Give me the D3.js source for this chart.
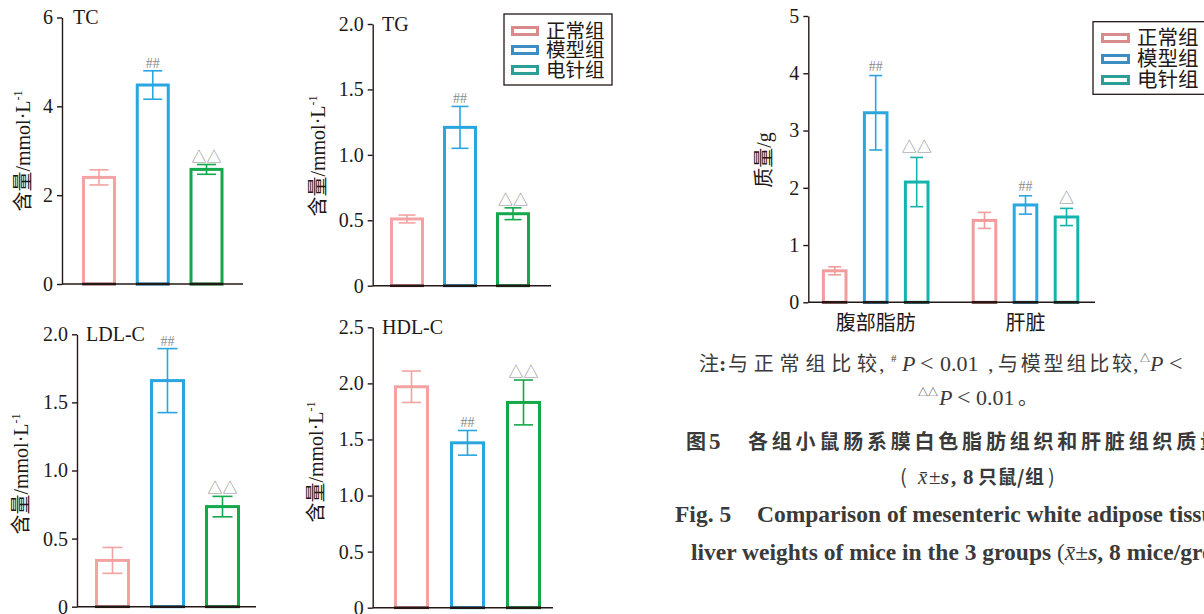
<!DOCTYPE html>
<html>
<head>
<meta charset="utf-8">
<title>Fig. 5</title>
<script src="https://d3js.org/d3.v7.min.js"></script>
<style type="text/css">
  body { margin: 0; background: #fff; }
  svg text { fill: #231815; }
  .tick text { font-family: "Liberation Serif", serif; font-size: 20px; }
  .serif { font-family: "Liberation Serif", serif; }
  .cjk { font-family: "Noto Sans CJK SC", sans-serif; }
  .mark { fill: #8a8a8a; }
  .cap text { fill: #3a3a3a; }
</style>
<script type="text/javascript">

var groups = ["正常组", "模型组", "电针组"];

var tcMean = [2.40, 4.48, 2.58];
var tcErr = [0.17, 0.32, 0.11];
var tcMarks = ["", "##", "△△"];
var tcTicks = [0, 2, 4, 6];

var tgMean = [0.51, 1.21, 0.55];
var tgErr = [0.03, 0.16, 0.045];
var tgMarks = ["", "##", "△△"];
var tgTicks = [0, 0.5, 1.0, 1.5, 2.0];

var ldlMean = [0.34, 1.66, 0.735];
var ldlErr = [0.095, 0.235, 0.075];
var ldlMarks = ["", "##", "△△"];
var ldlTicks = [0, 0.5, 1.0, 1.5, 2.0];

var hdlMean = [1.97, 1.47, 1.83];
var hdlErr = [0.14, 0.11, 0.20];
var hdlMarks = ["", "##", "△△"];
var hdlTicks = [0, 0.5, 1.0, 1.5, 2.0, 2.5];

var organs = ["腹部脂肪", "肝脏"];
var fatMean = [0.55, 3.31, 2.10];
var fatErr = [0.07, 0.65, 0.43];
var fatMarks = ["", "##", "△△"];
var liverMean = [1.43, 1.70, 1.49];
var liverErr = [0.14, 0.16, 0.15];
var liverMarks = ["", "##", "△"];
var weightTicks = [0, 1, 2, 3, 4, 5];

var leftColors = ["#f4a2a2", "#29a6e0", "#14a84c"];
var rightColors = ["#f29c9c", "#2ba6df", "#14b4ae"];
var legendColors = ["#d98b8b", "#3b8dc4", "#2b9e96"];

function fmtTick(d) { return d === 0 ? "0" : d3.format(".1f")(d); }

function drawAxes(svg, p, y) {
  var ax = svg.append("g")
    .attr("transform", "translate(" + p.ax + ",0)")
    .call(d3.axisLeft(y).tickValues(p.ticks).tickSize(5).tickSizeOuter(0)
      .tickPadding(4).tickFormat(p.fmt));
  ax.select(".domain").attr("stroke", "#231815").attr("stroke-width", 1.4);
  ax.selectAll(".tick line").attr("stroke", "#231815").attr("stroke-width", 1.4);
  ax.selectAll(".tick text").attr("fill", "#231815");

  svg.append("line")
    .attr("x1", p.ax).attr("x2", p.xEnd)
    .attr("y1", y(0)).attr("y2", y(0))
    .attr("stroke", "#231815").attr("stroke-width", 1.4);
}

function drawBars(svg, bars, y, bw, cap, off) {
  // bars: [{x, v, e, mark, color}]
  var g = svg.append("g");
  g.selectAll("rect").data(bars).enter().append("rect")
    .attr("x", function(d) { return d.x - bw / 2 + 1.5; })
    .attr("y", function(d) { return y(d.v); })
    .attr("width", bw - 3)
    .attr("height", function(d) { return y(0) - y(d.v); })
    .attr("fill", "none")
    .attr("stroke", function(d) { return d.color; })
    .attr("stroke-width", 3);

  // bar bottoms sit on the axis
  g.selectAll("line.base").data(bars).enter().append("line")
    .attr("class", "base")
    .attr("x1", function(d) { return d.x - bw / 2; })
    .attr("x2", function(d) { return d.x + bw / 2; })
    .attr("y1", y(0)).attr("y2", y(0))
    .attr("stroke", "#231815").attr("stroke-width", 2.6);

  // error bars
  var eb = g.selectAll("g.err").data(bars).enter().append("g")
    .attr("stroke", function(d) { return d.color; })
    .attr("stroke-width", 1.6);
  eb.append("line")
    .attr("x1", function(d) { return d.x; }).attr("x2", function(d) { return d.x; })
    .attr("y1", function(d) { return y(d.v + d.e); })
    .attr("y2", function(d) { return y(d.v - d.e); });
  eb.append("line")
    .attr("x1", function(d) { return d.x - cap / 2; }).attr("x2", function(d) { return d.x + cap / 2; })
    .attr("y1", function(d) { return y(d.v + d.e); }).attr("y2", function(d) { return y(d.v + d.e); });
  eb.append("line")
    .attr("x1", function(d) { return d.x - cap / 2; }).attr("x2", function(d) { return d.x + cap / 2; })
    .attr("y1", function(d) { return y(d.v - d.e); }).attr("y2", function(d) { return y(d.v - d.e); });

  // significance marks
  g.selectAll("text.mark").data(bars.filter(function(d) { return d.mark; })).enter()
    .append("text")
    .attr("class", function(d) { return d.mark.indexOf("#") >= 0 ? "mark serif" : "mark cjk"; })
    .attr("x", function(d) { return d.x; })
    .attr("y", function(d) { return y(d.v + d.e) - off; })
    .attr("text-anchor", "middle")
    .attr("font-size", function(d) { return d.mark.indexOf("#") >= 0 ? 14 : 15; })
    .text(function(d) { return d.mark; });
}

function yLabel(svg, x, y, cn, unit, sup) {
  var t = svg.append("text")
    .attr("transform", "translate(" + x + "," + y + ") rotate(-90)")
    .attr("text-anchor", "middle")
    .attr("font-size", 20);
  t.append("tspan").attr("class", "cjk").text(cn);
  t.append("tspan").attr("class", "serif").text(unit);
  if (sup) {
    t.append("tspan").attr("class", "serif").attr("font-size", 12)
      .attr("dy", -8).text(sup);
  }
}

function legend(svg, L) {
  svg.append("rect")
    .attr("x", L.x).attr("y", L.y).attr("width", L.w).attr("height", L.h)
    .attr("fill", "#fff").attr("stroke", "#231815").attr("stroke-width", 1.3);
  var item = svg.selectAll(null).data(groups).enter().append("g");
  item.append("rect")
    .attr("x", L.sx + 1.5)
    .attr("y", function(d, i) { return L.rows[i] - 3.5; })
    .attr("width", L.sw - 3).attr("height", 7)
    .attr("fill", "#fff")
    .attr("stroke", function(d, i) { return legendColors[i]; })
    .attr("stroke-width", 3);
  item.append("text")
    .attr("class", "cjk")
    .attr("x", L.tx)
    .attr("y", function(d, i) { return L.rows[i]; })
    .attr("dy", "0.36em")
    .attr("font-size", L.fs)
    .text(function(d) { return d; });
}

function drawPanel(svg, p) {
  var y = d3.scaleLinear().domain([0, p.max]).range([p.y0, p.yTop]);
  var x = d3.scalePoint().domain(groups).range([p.c1, p.c3]);
  drawAxes(svg, p, y);
  var bars = groups.map(function(g, i) {
    return { x: x(g), v: p.mean[i], e: p.err[i], mark: p.marks[i], color: leftColors[i] };
  });
  drawBars(svg, bars, y, p.bw, p.cap, 3);
  svg.append("text").attr("class", "serif")
    .attr("x", p.tx).attr("y", p.ty).attr("font-size", 20).text(p.title);
  yLabel(svg, p.lx, p.ly, "含量", "/mmol·L", "-1");
}

// helper for caption pieces placed at read-off x positions
function piece(g, x, y, txt, cls, size, opts) {
  opts = opts || {};
  var t = g.append("text").attr("class", cls).attr("x", x).attr("y", y)
    .attr("font-size", size).text(txt);
  if (opts.italic) t.attr("font-style", "italic");
  if (opts.bold) t.attr("font-weight", 700);
  if (opts.len) t.attr("textLength", opts.len).attr("lengthAdjust", "spacing");
  return t;
}

function createChart() {
  var svg = d3.select("body").append("svg")
    .attr("width", 1204).attr("height", 614)
    .style("display", "block");
  svg.append("rect").attr("width", 1204).attr("height", 614).attr("fill", "#fff");

  var panels = [
    { title: "TC", mean: tcMean, err: tcErr, marks: tcMarks, ticks: tcTicks, max: 6,
      fmt: function(d) { return d; },
      ax: 62, xEnd: 243, y0: 284, yTop: 17.5, c1: 99, c3: 206.5, bw: 34, cap: 19,
      tx: 73, ty: 24, lx: 30, ly: 151 },
    { title: "TG", mean: tgMean, err: tgErr, marks: tgMarks, ticks: tgTicks, max: 2,
      fmt: fmtTick,
      ax: 372.7, xEnd: 551, y0: 285.7, yTop: 24, c1: 407, c3: 513, bw: 34, cap: 17,
      tx: 382, ty: 31, lx: 325, ly: 156 },
    { title: "LDL-C", mean: ldlMean, err: ldlErr, marks: ldlMarks, ticks: ldlTicks, max: 2,
      fmt: fmtTick,
      ax: 77, xEnd: 256, y0: 606.7, yTop: 334.3, c1: 112.5, c3: 222.5, bw: 35, cap: 20,
      tx: 86, ty: 341, lx: 28, ly: 474 },
    { title: "HDL-C", mean: hdlMean, err: hdlErr, marks: hdlMarks, ticks: hdlTicks, max: 2.5,
      fmt: fmtTick,
      ax: 372.7, xEnd: 553, y0: 607.7, yTop: 327.3, c1: 411.5, c3: 523.5, bw: 35, cap: 19,
      tx: 382, ty: 334, lx: 323, ly: 462 }
  ];
  panels.forEach(function(p) { drawPanel(svg, p); });

  legend(svg, { x: 504, y: 14, w: 108, h: 71, sx: 511, sw: 28, rows: [31, 50, 70], tx: 546, fs: 19.5 });

  // right panel: organ weights
  var R = { ax: 808.3, xEnd: 1095, y0: 302.3, yTop: 16, ticks: weightTicks,
            fmt: function(d) { return d; } };
  var yR = d3.scaleLinear().domain([0, 5]).range([R.y0, R.yTop]);
  var xO = d3.scalePoint().domain(organs).range([875.7, 1025.5]);
  var xG = d3.scalePoint().domain(groups).range([-41, 41]);
  drawAxes(svg, R, yR);
  var series = [[fatMean, fatErr, fatMarks], [liverMean, liverErr, liverMarks]];
  var rbars = [];
  organs.forEach(function(o, j) {
    groups.forEach(function(g, i) {
      rbars.push({ x: xO(o) + xG(g), v: series[j][0][i], e: series[j][1][i],
                   mark: series[j][2][i], color: rightColors[i] });
    });
  });
  drawBars(svg, rbars, yR, 25.6, 13, 5);
  svg.selectAll("text.cat").data(organs).enter().append("text")
    .attr("class", "cjk")
    .attr("x", function(d) { return xO(d); })
    .attr("y", 330)
    .attr("text-anchor", "middle")
    .attr("font-size", 20)
    .text(function(d) { return d; });
  yLabel(svg, 771, 160, "质量", "/g", null);
  legend(svg, { x: 1093, y: 21.7, w: 140, h: 72.6, sx: 1101, sw: 29, rows: [38, 59, 80], tx: 1137, fs: 20.5 });

  // caption
  var c = svg.append("g").attr("class", "cap");

  // note line 1
  piece(c, 699, 371, "注", "cjk", 20);
  piece(c, 719, 371, ":", "serif", 22, { bold: true });
  piece(c, 728, 371, "与正常组比较", "cjk", 20, { len: 149 });
  piece(c, 879, 371, ",", "serif", 22);
  piece(c, 891, 362, "#", "serif", 11);
  piece(c, 902, 371, "P", "serif", 22, { italic: true });
  piece(c, 920, 371, "<", "serif", 24);
  piece(c, 940, 371, "0.01", "serif", 22);
  piece(c, 988, 371, ",", "serif", 22);
  piece(c, 998, 371, "与模型组比较", "cjk", 20, { len: 134 });
  piece(c, 1133, 371, ",", "serif", 22);
  piece(c, 1140, 362, "△", "cjk", 10);
  piece(c, 1150, 371, "P", "serif", 22, { italic: true });
  piece(c, 1169, 371, "<", "serif", 24);

  // note line 2
  piece(c, 918, 396, "△△", "cjk", 10);
  piece(c, 939, 405, "P", "serif", 22, { italic: true });
  piece(c, 957, 405, "<", "serif", 24);
  piece(c, 976, 405, "0.01", "serif", 22);
  piece(c, 1018, 405, "。", "cjk", 20);

  // figure title, Chinese
  piece(c, 686, 449, "图", "cjk", 20, { bold: true });
  piece(c, 709, 449, "5", "serif", 23, { bold: true });
  piece(c, 748, 449, "各组小鼠肠系膜白色脂肪组织和肝脏组织质量", "cjk", 20, { bold: true, len: 472 });

  piece(c, 900, 484, "(", "cjk", 20);
  piece(c, 918, 484, "x̄", "serif", 21, { italic: true });
  piece(c, 929, 484, "±", "serif", 21);
  piece(c, 941, 484, "s", "serif", 21, { italic: true, bold: true });
  piece(c, 951, 484, ",", "serif", 21, { bold: true });
  piece(c, 963, 484, "8", "serif", 21, { bold: true });
  piece(c, 978, 484, "只鼠/组", "cjk", 19, { bold: true, len: 66 });
  piece(c, 1048, 484, ")", "cjk", 20);

  // figure title, English
  piece(c, 675, 522, "Fig. 5", "serif", 23.5, { bold: true });
  piece(c, 757, 522, "Comparison of mesenteric white adipose tissue and", "serif", 23.5, { bold: true });
  var l6 = piece(c, 691, 560, "liver weights of mice in the 3 groups ", "serif", 23.5, { bold: true });
  l6.append("tspan").attr("font-weight", 400).text("(");
  l6.append("tspan").attr("font-style", "italic").attr("font-weight", 400).text("x̄");
  l6.append("tspan").attr("font-weight", 400).text("±");
  l6.append("tspan").attr("font-style", "italic").text("s");
  l6.append("tspan").text(", 8 mice/group)");
}

window.onload = createChart;

</script>
</head>
<body>
</body>
</html>
